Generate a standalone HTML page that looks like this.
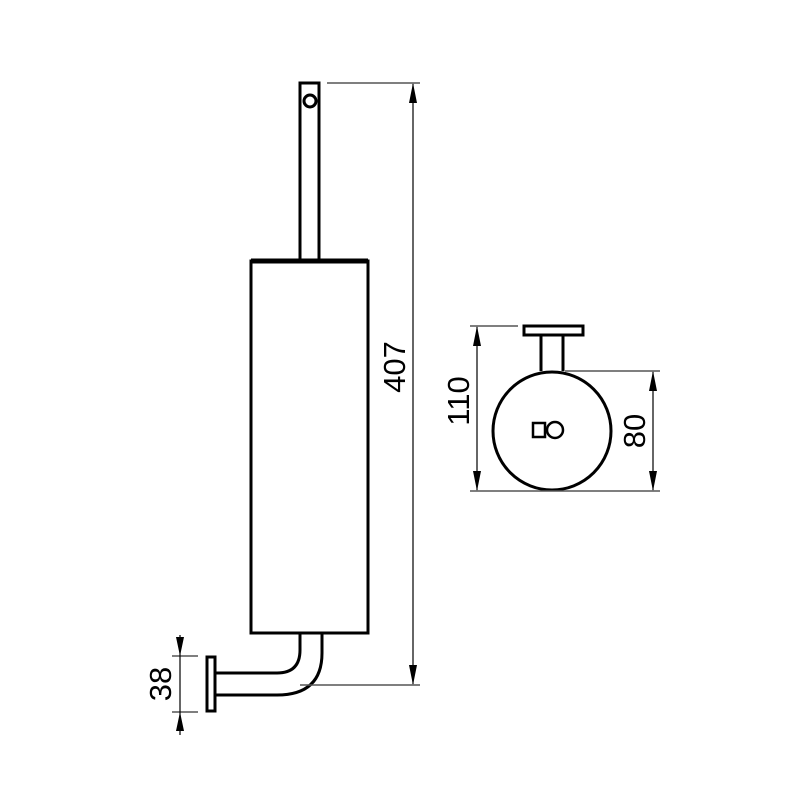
<!DOCTYPE html>
<html><head><style>body{margin:0;background:#fff}svg{display:block}text{font-family:"Liberation Sans",sans-serif;font-size:31px;fill:#000}</style></head>
<body>
<svg width="800" height="800" viewBox="0 0 800 800">
<g fill="none" stroke="#000" stroke-width="3">
<rect x="300" y="83" width="19" height="178"/>
<circle cx="310" cy="101" r="6"/>
<rect x="251" y="261" width="117" height="372"/>
<path d="M300,633 V650 Q300,673 277,673 H215 M322,633 V653 Q322,695 277,695 H215"/>
<rect x="207" y="657" width="8" height="54"/>
<rect x="524" y="326" width="59" height="9"/>
<path d="M541,335 V371 M563,335 V371"/>
<circle cx="552" cy="431" r="59"/>
<rect x="533" y="423" width="12" height="14" stroke-width="2.5"/>
<circle cx="555" cy="430" r="8" stroke-width="2.5" fill="#fff"/>
</g>
<line x1="251" y1="261" x2="368" y2="261" stroke="#000" stroke-width="5"/>
<g stroke="#555" stroke-width="1.5" fill="none">
<path d="M327,83 H420 M300,685 H420 M172,656 H198 M172,712 H198 M470,326 H518 M470,491 H660 M565,371 H660"/>
</g>
<g stroke="#000" stroke-width="1.2">
<line x1="413" y1="84" x2="413" y2="684"/>
<line x1="180" y1="635" x2="180" y2="735"/>
<line x1="477" y1="327" x2="477" y2="490"/>
<line x1="653" y1="372" x2="653" y2="490"/>
</g>
<g fill="#000">
<path d="M413,83 L409,103 L417,103Z M413,685 L409,665 L417,665Z"/>
<path d="M180,656 L176,637 L184,637Z M180,712 L176,731 L184,731Z"/>
<path d="M477,326 L473,346 L481,346Z M477,491 L473,471 L481,471Z"/>
<path d="M653,371 L649,391 L657,391Z M653,491 L649,471 L657,471Z"/>
</g>
<text transform="translate(405,367) rotate(-90)" text-anchor="middle">407</text>
<text transform="translate(171,684) rotate(-90)" text-anchor="middle">38</text>
<text transform="translate(469,401) rotate(-90)" text-anchor="middle">110</text>
<text transform="translate(645,431) rotate(-90)" text-anchor="middle">80</text>
</svg>
</body></html>
